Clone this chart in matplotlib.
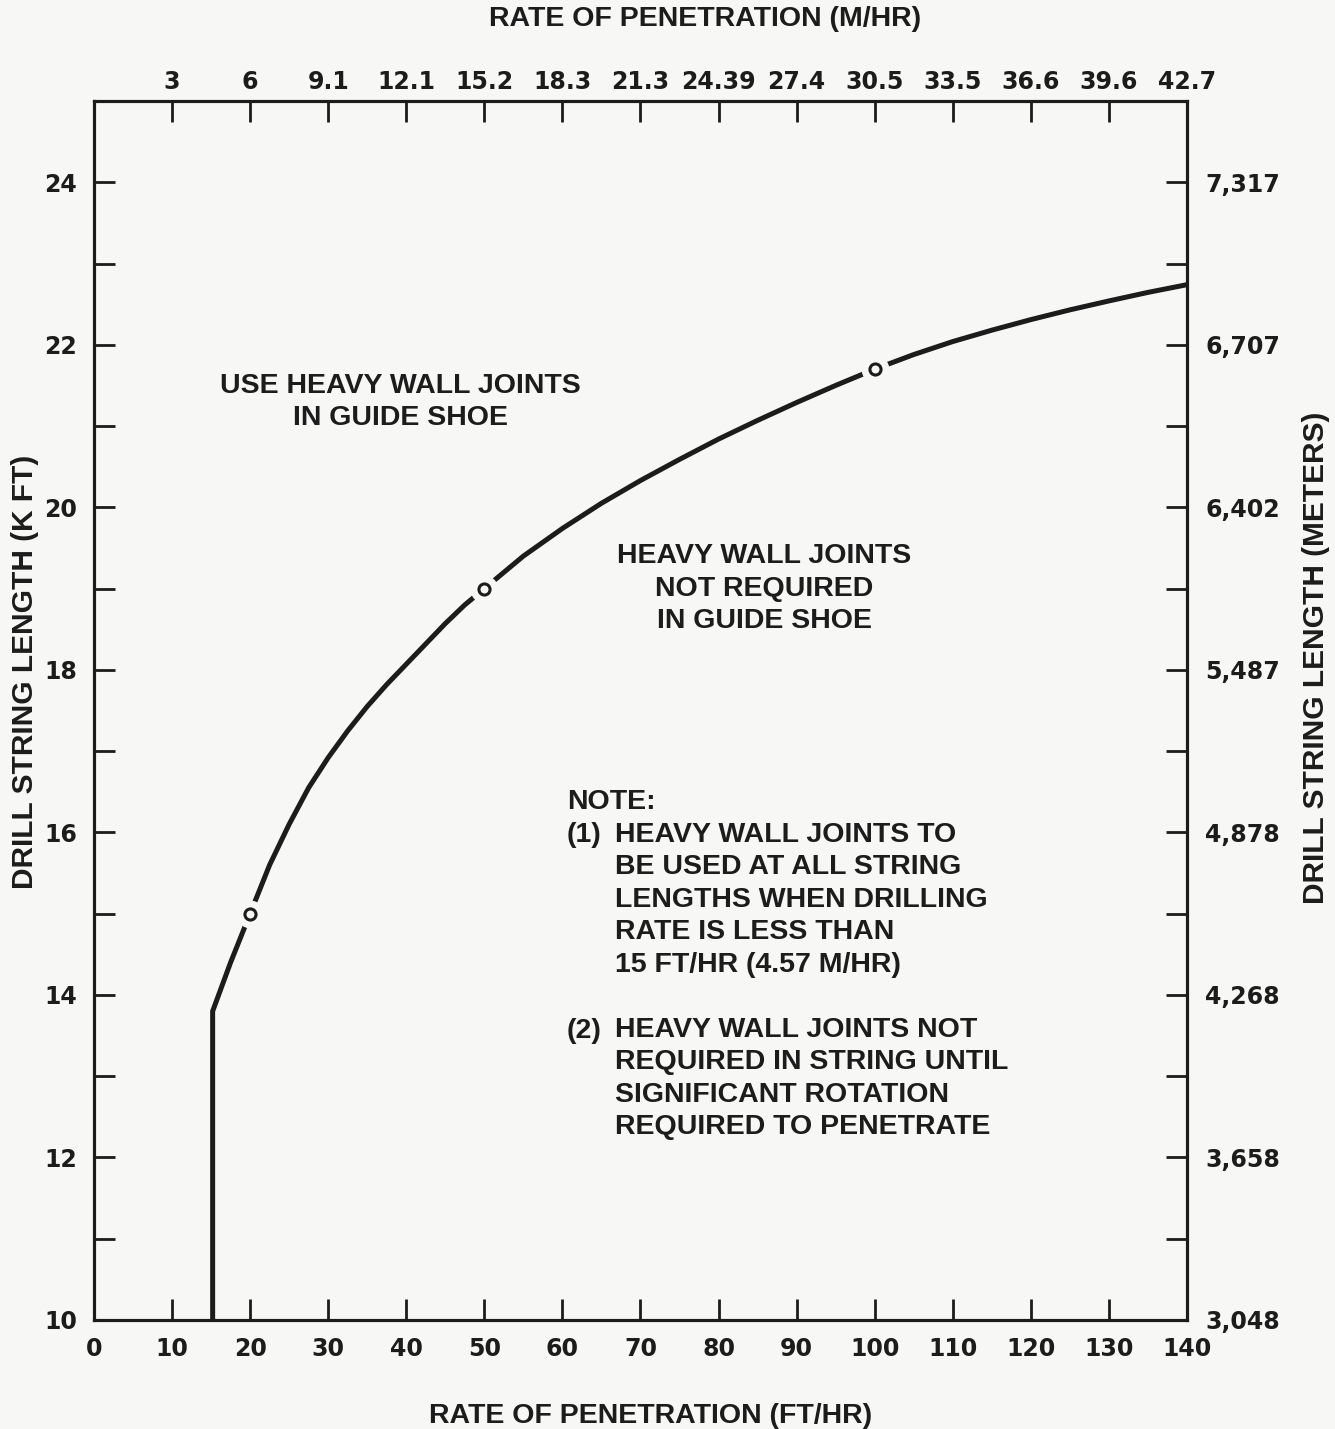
import matplotlib
matplotlib.use("Agg")
import matplotlib.pyplot as plt

# curve (ft/hr vs k ft)
rop_ft = [15.2, 15.2, 17.5, 20, 22.5, 25, 27.5, 30, 32.5, 35, 37.5, 40, 42.5, 45, 47.5, 50,
          55, 60, 65, 70, 75, 80, 85, 90, 95, 100, 105, 110, 115, 120, 125, 130, 135, 140]
length_kft = [10, 13.8, 14.4, 15.0, 15.6, 16.1, 16.55, 16.92, 17.25, 17.55, 17.82, 18.07,
              18.32, 18.57, 18.8, 19.0, 19.4, 19.74, 20.05, 20.33, 20.59, 20.84, 21.07,
              21.29, 21.5, 21.7, 21.88, 22.04, 22.18, 22.31, 22.43, 22.54, 22.645, 22.74]

marker_x = [20, 50, 100]
marker_y = [15, 19, 21.7]

x_ticks = list(range(0, 141, 10))
top_ticks = list(range(10, 141, 10))
top_labels = ['3', '6', '9.1', '12.1', '15.2', '18.3', '21.3', '24.39',
              '27.4', '30.5', '33.5', '36.6', '39.6', '42.7']
y_ticks = list(range(10, 25, 2))
y_minor = list(range(11, 25, 2))
right_labels = ['3,048', '3,658', '4,268', '4,878', '5,487', '6,402', '6,707', '7,317']

INK = '#1c1c1c'
BG = '#f7f7f5'
TXT = ['Liberation Sans', 'DejaVu Sans']
NUM = ['DejaVu Sans']

fig = plt.figure(figsize=(13.35, 14.29), dpi=100, facecolor=BG)
ax = fig.add_axes([0.0704, 0.0763, 0.8187, 0.853], facecolor=BG)

ax.plot(rop_ft, length_kft, color=INK, lw=3.6, solid_joinstyle='round', zorder=2)
# white halo gives the gap in the line around each point
ax.plot(marker_x, marker_y, 'o', ms=19, mfc=BG, mec=BG, zorder=3)
ax.plot(marker_x, marker_y, 'o', ms=8, mfc=BG, mec=INK, mew=2.2, zorder=4)

ax.set_xlim(0, 140)
ax.set_ylim(10, 25)

ax.set_xticks(x_ticks)
ax.set_xticklabels([str(v) for v in x_ticks], family=NUM, fontweight='bold', fontsize=17)
ax.set_yticks(y_ticks)
ax.set_yticks(y_minor, minor=True)
ax.set_yticklabels([str(v) for v in y_ticks], family=NUM, fontweight='bold', fontsize=17)
ax.tick_params(axis='x', direction='in', length=15, width=2, color=INK, labelcolor=INK, pad=12)
ax.tick_params(axis='y', which='both', direction='in', length=15, width=2, color=INK,
               labelcolor=INK, pad=12)

ax_top = ax.twiny()
ax_top.set_xlim(0, 140)
ax_top.set_xticks(top_ticks)
ax_top.set_xticklabels(top_labels, family=NUM, fontweight='bold', fontsize=17)
ax_top.tick_params(direction='in', length=15, width=2, color=INK, labelcolor=INK, pad=5)

ax_right = ax.twinx()
ax_right.set_ylim(10, 25)
ax_right.set_yticks(y_ticks)
ax_right.set_yticks(y_minor, minor=True)
ax_right.set_yticklabels(right_labels, family=NUM, fontweight='bold', fontsize=17)
ax_right.tick_params(which='both', direction='in', length=15, width=2, color=INK,
                     labelcolor=INK, pad=13)

for a in (ax, ax_top, ax_right):
    for s in a.spines.values():
        s.set_linewidth(2.2)
        s.set_color(INK)

lab = dict(family=TXT, fontweight='bold', fontsize=20.5, color=INK)
ax.set_xlabel('RATE OF PENETRATION (FT/HR)', va='center', **lab)
ax.xaxis.set_label_coords(0.509, -0.079)
ax_top.set_xlabel('RATE OF PENETRATION (M/HR)', va='center', **lab)
ax_top.xaxis.set_label_coords(0.559, 1.067)
ylab = dict(lab, fontsize=21.5)
ax.set_ylabel('DRILL STRING LENGTH (K FT)', va='center', **ylab)
ax.yaxis.set_label_coords(-0.063, 0.532)
ax_right.set_ylabel('DRILL STRING LENGTH (METERS)', va='center', rotation=90, **ylab)
ax_right.yaxis.set_label_coords(1.118, 0.543)

ann = dict(family=TXT, fontweight='bold', fontsize=20.5, color=INK)
ax.text(39.3, 21.3, 'USE HEAVY WALL JOINTS\nIN GUIDE SHOE', ha='center', va='center',
        linespacing=1.3, **ann)
ax.text(85.9, 19.0, 'HEAVY WALL JOINTS\nNOT REQUIRED\nIN GUIDE SHOE', ha='center',
        va='center', linespacing=1.33, **ann)
ax.text(60.6, 16.37, 'NOTE:', ha='left', va='center', **ann)
ax.text(60.6, 15.97, '(1)', ha='left', va='center', **ann)
ax.text(60.6, 13.56, '(2)', ha='left', va='center', **ann)
ax.text(66.7, 15.17, 'HEAVY WALL JOINTS TO\nBE USED AT ALL STRING\nLENGTHS WHEN DRILLING\n'
        'RATE IS LESS THAN\n15 FT/HR (4.57 M/HR)', ha='left', va='center', linespacing=1.32, **ann)
ax.text(66.7, 12.97, 'HEAVY WALL JOINTS NOT\nREQUIRED IN STRING UNTIL\n'
        'SIGNIFICANT ROTATION\nREQUIRED TO PENETRATE', ha='left', va='center',
        linespacing=1.32, **ann)

fig.savefig('out.png', dpi=100, facecolor=BG)
